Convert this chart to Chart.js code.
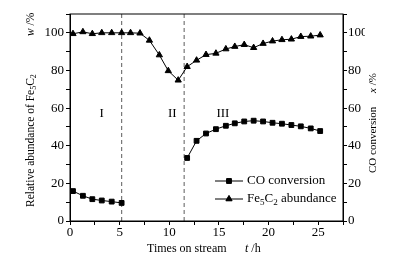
<!DOCTYPE html>
<html>
<head>
<meta charset="utf-8">
<script src="https://cdn.jsdelivr.net/npm/chart.js@4.4.1/dist/chart.umd.min.js"></script>
<style>
  html, body { margin: 0; padding: 0; background: #fff; }
  #wrap { width: 394px; height: 263px; }
</style>
</head>
<body>
<div id="wrap"><canvas id="chart"></canvas></div>
<script>
// time on stream (h) for each sample
const timeFe = [0.3, 1.3, 2.25, 3.2, 4.2, 5.2, 6.1, 7.05, 8.0, 9.0, 9.9, 10.9, 11.8, 12.75, 13.7,
    14.7, 15.7, 16.6, 17.55, 18.5, 19.45, 20.4, 21.35, 22.3, 23.25, 24.25, 25.2];
const feAbundance = [99.5, 100.5, 99.5, 100, 100, 100, 100, 99.8, 96, 88.2, 79.8, 74.8, 82, 85.4, 88.4,
    89.1, 91.4, 92.7, 93.7, 92.1, 94.3, 95.6, 96.3, 96.6, 98, 98.2, 98.8];

const timeCO1 = [0.3, 1.3, 2.25, 3.2, 4.2, 5.2];
const coConv1 = [15.9, 13.4, 11.6, 10.9, 10.3, 9.6];
const timeCO2 = [11.8, 12.75, 13.7, 14.7, 15.7, 16.6, 17.55, 18.5, 19.45, 20.4, 21.35, 22.3, 23.25, 24.25, 25.2];
const coConv2 = [33.5, 42.6, 46.5, 48.8, 50.6, 51.9, 52.9, 53.3, 52.9, 52.2, 51.7, 51.0, 50.3, 49.2, 47.8];

// stage boundaries and stage labels
const boundaries = [5.2, 11.5];
const stageNames = ['I', 'II', 'III'];
const stageX = [3.2, 10.3, 15.4];
const stageY = [57, 57, 57];

const font = '"Liberation Serif", "Times New Roman", serif';

function pts(xs, ys) {
    return xs.map((x, i) => ({ x: x, y: ys[i] }));
}

const coData = pts(timeCO1, coConv1).concat([{ x: 8, y: null }], pts(timeCO2, coConv2));

const boundaryDatasets = boundaries.map(b => ({
    data: [{ x: b, y: 0 }, { x: b, y: 110 }],
    borderColor: '#777',
    borderWidth: 1.2,
    borderDash: [4, 3],
    pointRadius: 0,
    yAxisID: 'y'
}));

// draws a string with subscript digits, e.g. Fe_5C_2
function drawRich(ctx, parts, x, y, size) {
    let cx = x;
    parts.forEach(p => {
        if (p.sub) {
            ctx.font = (size * 0.7).toFixed(1) + 'px ' + font;
            ctx.fillText(p.t, cx, y + size * 0.25);
        } else {
            ctx.font = (p.it ? 'italic ' : '') + size + 'px ' + font;
            ctx.fillText(p.t, cx, y);
        }
        cx += ctx.measureText(p.t).width;
    });
    return cx - x;
}

// rotated text running upward from (x, y)
function drawUp(ctx, parts, x, y, size) {
    ctx.save();
    ctx.translate(x, y);
    ctx.rotate(-Math.PI / 2);
    drawRich(ctx, parts, 0, 0, size);
    ctx.restore();
}

const fe5c2 = [{ t: 'Fe' }, { t: '5', sub: true }, { t: 'C' }, { t: '2', sub: true }];

const decorPlugin = {
    id: 'decor',
    afterDraw(chart) {
        const ctx = chart.ctx;
        const a = chart.chartArea;
        const xs = chart.scales.x, ys = chart.scales.y;
        ctx.save();
        // frame
        ctx.strokeStyle = '#000';
        ctx.lineWidth = 1;
        ctx.strokeRect(a.left, a.top, a.right - a.left, a.bottom - a.top);

        ctx.fillStyle = '#000';
        ctx.textBaseline = 'middle';

        // stage labels
        ctx.font = '13px ' + font;
        ctx.textAlign = 'center';
        stageNames.forEach((s, i) => {
            ctx.fillText(s, xs.getPixelForValue(stageX[i]), ys.getPixelForValue(stageY[i]));
        });

        // legend
        ctx.textAlign = 'left';
        const legX = a.right - 128, legY = a.bottom - 40;
        const items = [
            { style: 'rect', parts: [{ t: 'CO conversion' }] },
            { style: 'triangle', parts: fe5c2.concat([{ t: ' abundance' }]) }
        ];
        items.forEach((it, i) => {
            const y = legY + i * 18;
            ctx.strokeStyle = '#000';
            ctx.beginPath();
            ctx.moveTo(legX, y);
            ctx.lineTo(legX + 28, y);
            ctx.stroke();
            Chart.helpers.drawPoint(ctx, { pointStyle: it.style, radius: it.style === 'rect' ? 3.4 : 3.6, borderWidth: 1 }, legX + 14, y);
            ctx.fill();
            drawRich(ctx, it.parts, legX + 32, y, 13);
        });

        // x title
        drawRich(ctx, [{ t: 'Times on stream' }], a.left + 77, a.bottom + 28, 12);
        drawRich(ctx, [{ t: 't', it: true }, { t: ' /h' }], a.left + 175, a.bottom + 28, 12);

        // left title
        drawUp(ctx, [{ t: 'Relative abundance of ' }].concat(fe5c2), a.left - 39, a.bottom - 14, 11.5);
        drawUp(ctx, [{ t: 'w', it: true }, { t: ' /%' }], a.left - 39, a.top + 22, 11.5);

        // right title
        drawUp(ctx, [{ t: 'CO conversion' }], a.right + 30, a.bottom - 48, 11);
        drawUp(ctx, [{ t: 'x', it: true }, { t: ' /%' }], a.right + 30, a.top + 79, 11);

        ctx.restore();
    }
};

const tickFont = { family: font, size: 13 };
const axisGrid = { drawOnChartArea: false, drawTicks: true, tickLength: 4, color: '#000' };

new Chart(document.getElementById('chart').getContext('2d'), {
    type: 'line',
    data: {
        datasets: [
            {
                label: 'CO conversion',
                data: coData,
                borderColor: '#000',
                backgroundColor: '#000',
                borderWidth: 1,
                pointStyle: 'rect',
                pointRadius: 3.4,
                spanGaps: false,
                yAxisID: 'y2'
            },
            {
                label: 'Fe5C2 abundance',
                data: pts(timeFe, feAbundance),
                borderColor: '#000',
                backgroundColor: '#000',
                borderWidth: 1,
                pointStyle: 'triangle',
                pointRadius: 3.6,
                yAxisID: 'y'
            }
        ].concat(boundaryDatasets)
    },
    options: {
        responsive: true,
        maintainAspectRatio: false,
        animation: false,
        layout: { padding: { left: 30, right: 29, top: 14, bottom: 22 } },
        plugins: {
            legend: { display: false },
            tooltip: { enabled: false }
        },
        scales: {
            x: {
                type: 'linear',
                min: 0,
                max: 27.5,
                grid: axisGrid,
                border: { display: true, color: '#000', width: 1 },
                ticks: {
                    stepSize: 2.5,
                    color: '#000',
                    font: tickFont,
                    padding: 0,
                    maxRotation: 0,
                    autoSkip: false,
                    callback: v => (v % 5 === 0 ? v : '')
                },
                afterFit: s => { s.height = 20; }
            },
            y: {
                position: 'left',
                min: 0,
                max: 110,
                grid: axisGrid,
                border: { display: true, color: '#000', width: 1 },
                ticks: {
                    stepSize: 10,
                    color: '#000',
                    font: tickFont,
                    padding: 2,
                    autoSkip: false,
                    callback: v => (v % 20 === 0 && v <= 100 ? v : '')
                },
                afterFit: s => { s.width = 40; }
            },
            y2: {
                position: 'right',
                min: 0,
                max: 110,
                grid: axisGrid,
                border: { display: true, color: '#000', width: 1 },
                ticks: {
                    stepSize: 10,
                    color: '#000',
                    font: tickFont,
                    padding: 1,
                    autoSkip: false,
                    callback: v => (v % 20 === 0 && v <= 100 ? v : '')
                },
                afterFit: s => { s.width = 22; }
            }
        }
    },
    plugins: [decorPlugin]
});
</script>
</body>
</html>
